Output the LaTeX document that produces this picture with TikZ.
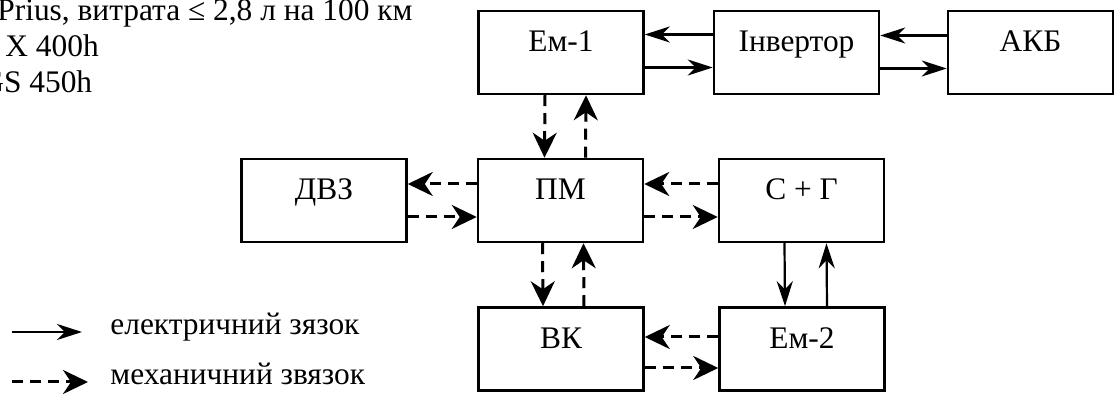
\documentclass[tikz,border=0pt]{standalone}
\usepackage{fontspec}
\setmainfont{Liberation Serif}
\usetikzlibrary{arrows.meta,calc}
\begin{document}
\begin{tikzpicture}[x=0.5pt,y=-0.5pt,
  lbl/.style={font=\fontsize{15.7}{18}\selectfont},
  box/.style={draw, line width=1.25pt, minimum width=82.5pt,
    inner xsep=0pt, inner ysep=0pt, text height=20.5pt, text depth=21pt, lbl},
  txt/.style={lbl, inner sep=0pt, anchor=base west},
  elec/.style={line width=1.1pt, -{Stealth[length=12.5pt,width=8pt,inset=4pt]}},
  mech/.style={line width=1.5pt, dash pattern=on 5.5pt off 3.5pt,
    -{Stealth[length=12.5pt,width=12pt,inset=4pt]}}]
\useasboundingbox (0,0) rectangle (1116,399);
\clip (0,0) rectangle (1116,399);

% notes in the upper left corner
\node[txt] (t1) at (-3,21) {Prius, витрата ≤ 2,8 л на 100 км};
\node[txt] (t2) at (5,57) {X 400h};
\node[txt] (t3) at (-19,93) {GS 450h};

% blocks
\node[box] (em1) at (561,52.5)   {Ем-1};
\node[box] (inv) at (796.5,52.5) {Інвертор};
\node[box] (akb) at (1030.5,52.5) {АКБ};
\node[box] (dvz) at (324,200.5)  {ДВЗ};
\node[box] (pm)  at (560.5,200.5) {ПМ};
\node[box] (sg)  at (801.5,200.5) {С + Г};
\node[box] (vk)  at (561,349)    {ВК};
\node[box] (em2) at (802,349)    {Ем-2};

% electric links
\draw[elec] ($(inv.west)+(0,-18)$) -- ($(em1.east)+(0,-18)$);
\draw[elec] ($(em1.east)+(0,15)$) -- ($(inv.west)+(0,15)$);
\draw[elec] ($(akb.west)+(0,-17)$) -- ($(inv.east)+(0,-17)$);
\draw[elec] ($(inv.east)+(0,16)$) -- ($(akb.west)+(0,16)$);
\draw[elec] ($(sg.south)+(-17,0)$) -- ($(em2.north)+(-17,0)$);
\draw[elec] ($(em2.north)+(25,0)$) -- ($(sg.south)+(25,0)$);

% mechanical links
\draw[mech] ($(em1.south)+(-16,0)$) -- ($(pm.north)+(-16,0)$);
\draw[mech] ($(pm.north)+(25,0)$) -- ($(em1.south)+(25,0)$);
\draw[mech] ($(pm.west)+(0,-16.5)$) -- ($(dvz.east)+(0,-16.5)$);
\draw[mech] ($(dvz.east)+(0,16.5)$) -- ($(pm.west)+(0,16.5)$);
\draw[mech] ($(sg.west)+(0,-16.5)$) -- ($(pm.east)+(0,-16.5)$);
\draw[mech] ($(pm.east)+(0,16.5)$) -- ($(sg.west)+(0,16.5)$);
\draw[mech] ($(pm.south)+(-18,0)$) -- ($(vk.north)+(-18,0)$);
\draw[mech] ($(vk.north)+(23,0)$) -- ($(pm.south)+(23,0)$);
\draw[mech] ($(em2.west)+(0,-12)$) -- ($(vk.east)+(0,-12)$);
\draw[mech] ($(vk.east)+(0,19)$) -- ($(em2.west)+(0,19)$);

% legend
\coordinate (e1) at (12,332);
\coordinate (e2) at (82,332);
\draw[elec] (e1) -- (e2);
\node[txt] (le) at (110,335) {електричний зязок};
\coordinate (m1) at (12,382);
\coordinate (m2) at (88,382);
\draw[mech] (m1) -- (m2);
\node[txt] (lm) at (110,385) {механичний звязок};
\end{tikzpicture}
\end{document}
